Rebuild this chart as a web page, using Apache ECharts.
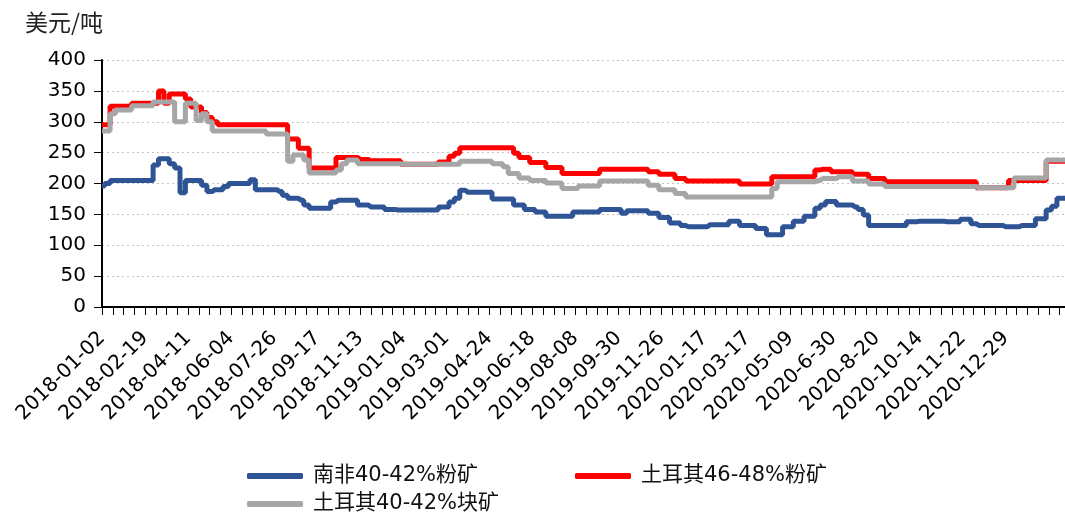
<!DOCTYPE html>
<html>
<head>
<meta charset="utf-8">
<script src="https://cdn.jsdelivr.net/npm/echarts@6/dist/echarts.min.js"></script>
<style>
html,body{margin:0;padding:0;background:#fff;}
#chart{width:1065px;height:515px;}
</style>
</head>
<body>
<div id="chart"></div>
<script>
// Tick labels shown every 8 data points on the category axis
const tickLabels = ['2018-01-02','2018-02-19','2018-04-11','2018-06-04','2018-07-26','2018-09-17','2018-11-13','2019-01-04','2019-03-01','2019-04-24','2019-06-18','2019-08-08','2019-09-30','2019-11-26','2020-01-17','2020-03-17','2020-05-09','2020-6-30','2020-8-20','2020-10-14','2020-11-22','2020-12-29'];

const seriesNames = ['南非40-42%粉矿','土耳其46-48%粉矿','土耳其40-42%块矿'];

// 南非40-42%粉矿 (USD/t)
const southAfrica = [
 196,200,205,205,205,205,205,205,205,205,
 230,240,240,232,225,185,205,205,205,197,
 187,190,190,195,200,200,200,200,206,190,
 190,190,190,187,181,176,176,173,165,160,
 160,160,160,170,173,173,173,173,165,165,
 162,162,162,158,158,157,157,157,157,157,
 157,157,157,162,162,170,176,189,186,186,
 186,186,186,175,175,175,175,165,165,158,
 158,154,154,147,147,147,147,147,154,154,
 154,154,154,158,158,158,158,152,156,156,
 156,156,152,152,145,145,136,136,132,130,
 130,130,130,133,133,133,133,139,139,132,
 132,132,127,127,117,117,117,130,130,139,
 139,147,147,160,165,171,171,165,165,165,
 162,158,149,132,132,132,132,132,132,132,
 138,138,139,139,139,139,139,138,138,138,
 142,142,135,132,132,132,132,132,130,130,
 130,132,132,132,143,143,157,163,176,176
];

// 土耳其46-48%粉矿 (USD/t)
const turkeyFines = [
 295,295,325,325,325,325,330,330,330,330,
 330,350,330,345,345,345,337,324,324,315,
 307,300,295,295,295,295,295,295,295,295,
 295,295,295,295,295,272,272,257,257,225,
 225,225,225,225,242,242,242,242,239,239,
 237,237,237,237,237,237,231,231,231,231,
 231,231,231,235,235,244,249,258,258,258,
 258,258,258,258,258,258,258,249,242,242,
 234,234,234,226,226,226,216,216,216,216,
 216,216,216,223,223,223,223,223,223,223,
 223,223,219,219,215,215,215,208,208,204,
 204,204,204,204,204,204,204,204,204,199,
 199,199,199,199,199,211,211,211,211,211,
 211,211,211,222,223,223,219,219,219,219,
 215,215,215,208,208,208,203,203,203,203,
 203,203,203,203,203,203,203,203,203,203,
 203,203,203,193,193,193,193,193,193,205,
 205,205,205,205,205,205,236,236,236,236
];

// 土耳其40-42%块矿 (USD/t)
const turkeyLump = [
 285,285,313,319,319,319,326,326,326,326,
 332,332,332,332,300,300,330,330,302,313,
 300,285,285,285,285,285,285,285,285,285,
 285,280,280,280,280,236,246,246,238,217,
 217,217,217,217,222,232,238,238,232,232,
 232,232,232,232,232,232,231,231,231,231,
 231,231,231,231,231,231,231,236,236,236,
 236,236,236,232,232,227,216,216,209,209,
 205,205,205,201,201,201,192,192,192,196,
 196,196,196,204,204,204,204,204,204,204,
 204,204,197,197,190,190,190,184,184,178,
 178,178,178,178,178,178,178,178,178,178,
 178,178,178,178,178,192,203,203,203,203,
 203,203,203,205,208,208,208,211,211,211,
 204,204,204,199,199,199,195,195,195,195,
 195,195,195,195,195,195,195,195,195,195,
 195,195,195,193,193,193,193,193,193,193,
 209,209,209,209,209,209,238,238,238,238
];

const yTicks = [0,50,100,150,200,250,300,350,400];
const colors = ['#2F5496','#FF0000','#A6A6A6'];

const categories = southAfrica.map((_, i) => String(i));
const numFont = 'DejaVu Sans';
const cjkFont = '"DejaVu Sans", "Noto Sans CJK SC"';

function mkLegend(name, left, top) {
  return {
    data: [name], left: left, top: top, orient: 'horizontal',
    icon: 'roundRect', itemWidth: 56, itemHeight: 6,
    textStyle: { fontFamily: cjkFont, fontSize: 21, color: '#111', lineHeight: 24, padding: [0,0,0,5] },
    selectedMode: false
  };
}

const chart = echarts.init(document.getElementById('chart'), null, { renderer: 'canvas' });
chart.setOption({
  animation: false,
  backgroundColor: '#fff',
  title: {
    text: '美元/吨', left: 20, top: 6,
    textStyle: { fontFamily: '"Noto Sans CJK SC"', fontSize: 23, fontWeight: 'normal', color: '#222' }
  },
  legend: [
    mkLegend(seriesNames[0], 242, 459),
    mkLegend(seriesNames[1], 570, 459),
    mkLegend(seriesNames[2], 242, 487)
  ],
  grid: { left: 102, right: 0, top: 60, bottom: 208, containLabel: false },
  xAxis: {
    type: 'category', data: categories, boundaryGap: false,
    axisLine: { lineStyle: { color: '#000', width: 2 } },
    axisTick: { show: true, interval: 1, length: 8, lineStyle: { color: '#000', width: 1 } },
    axisLabel: {
      interval: 7, rotate: 45, margin: 28, color: '#000',
      fontFamily: numFont, fontSize: 20,
      formatter: (v, i) => (i % 8 === 0 && tickLabels[i / 8]) ? tickLabels[i / 8] : ''
    },
    splitLine: { show: false }
  },
  yAxis: {
    type: 'value', min: yTicks[0], max: yTicks[yTicks.length - 1], interval: yTicks[1] - yTicks[0],
    axisLine: { show: true, lineStyle: { color: '#000', width: 2 } },
    axisTick: { show: true, length: 8, lineStyle: { color: '#000', width: 1 } },
    axisLabel: { color: '#000', fontFamily: numFont, fontSize: 20, margin: 16 },
    splitLine: { show: true, lineStyle: { color: '#c4c4c4', width: 1.2, type: [2, 3] } }
  },
  series: [
    { name: seriesNames[0], type: 'line', data: southAfrica, step: 'middle', showSymbol: false, color: colors[0], lineStyle: { width: 5, color: colors[0] }, z: 2 },
    { name: seriesNames[1], type: 'line', data: turkeyFines, step: 'middle', showSymbol: false, color: colors[1], lineStyle: { width: 5, color: colors[1] }, z: 3 },
    { name: seriesNames[2], type: 'line', data: turkeyLump, step: 'middle', showSymbol: false, color: colors[2], lineStyle: { width: 5, color: colors[2] }, z: 4 }
  ]
});
</script>
</body>
</html>
